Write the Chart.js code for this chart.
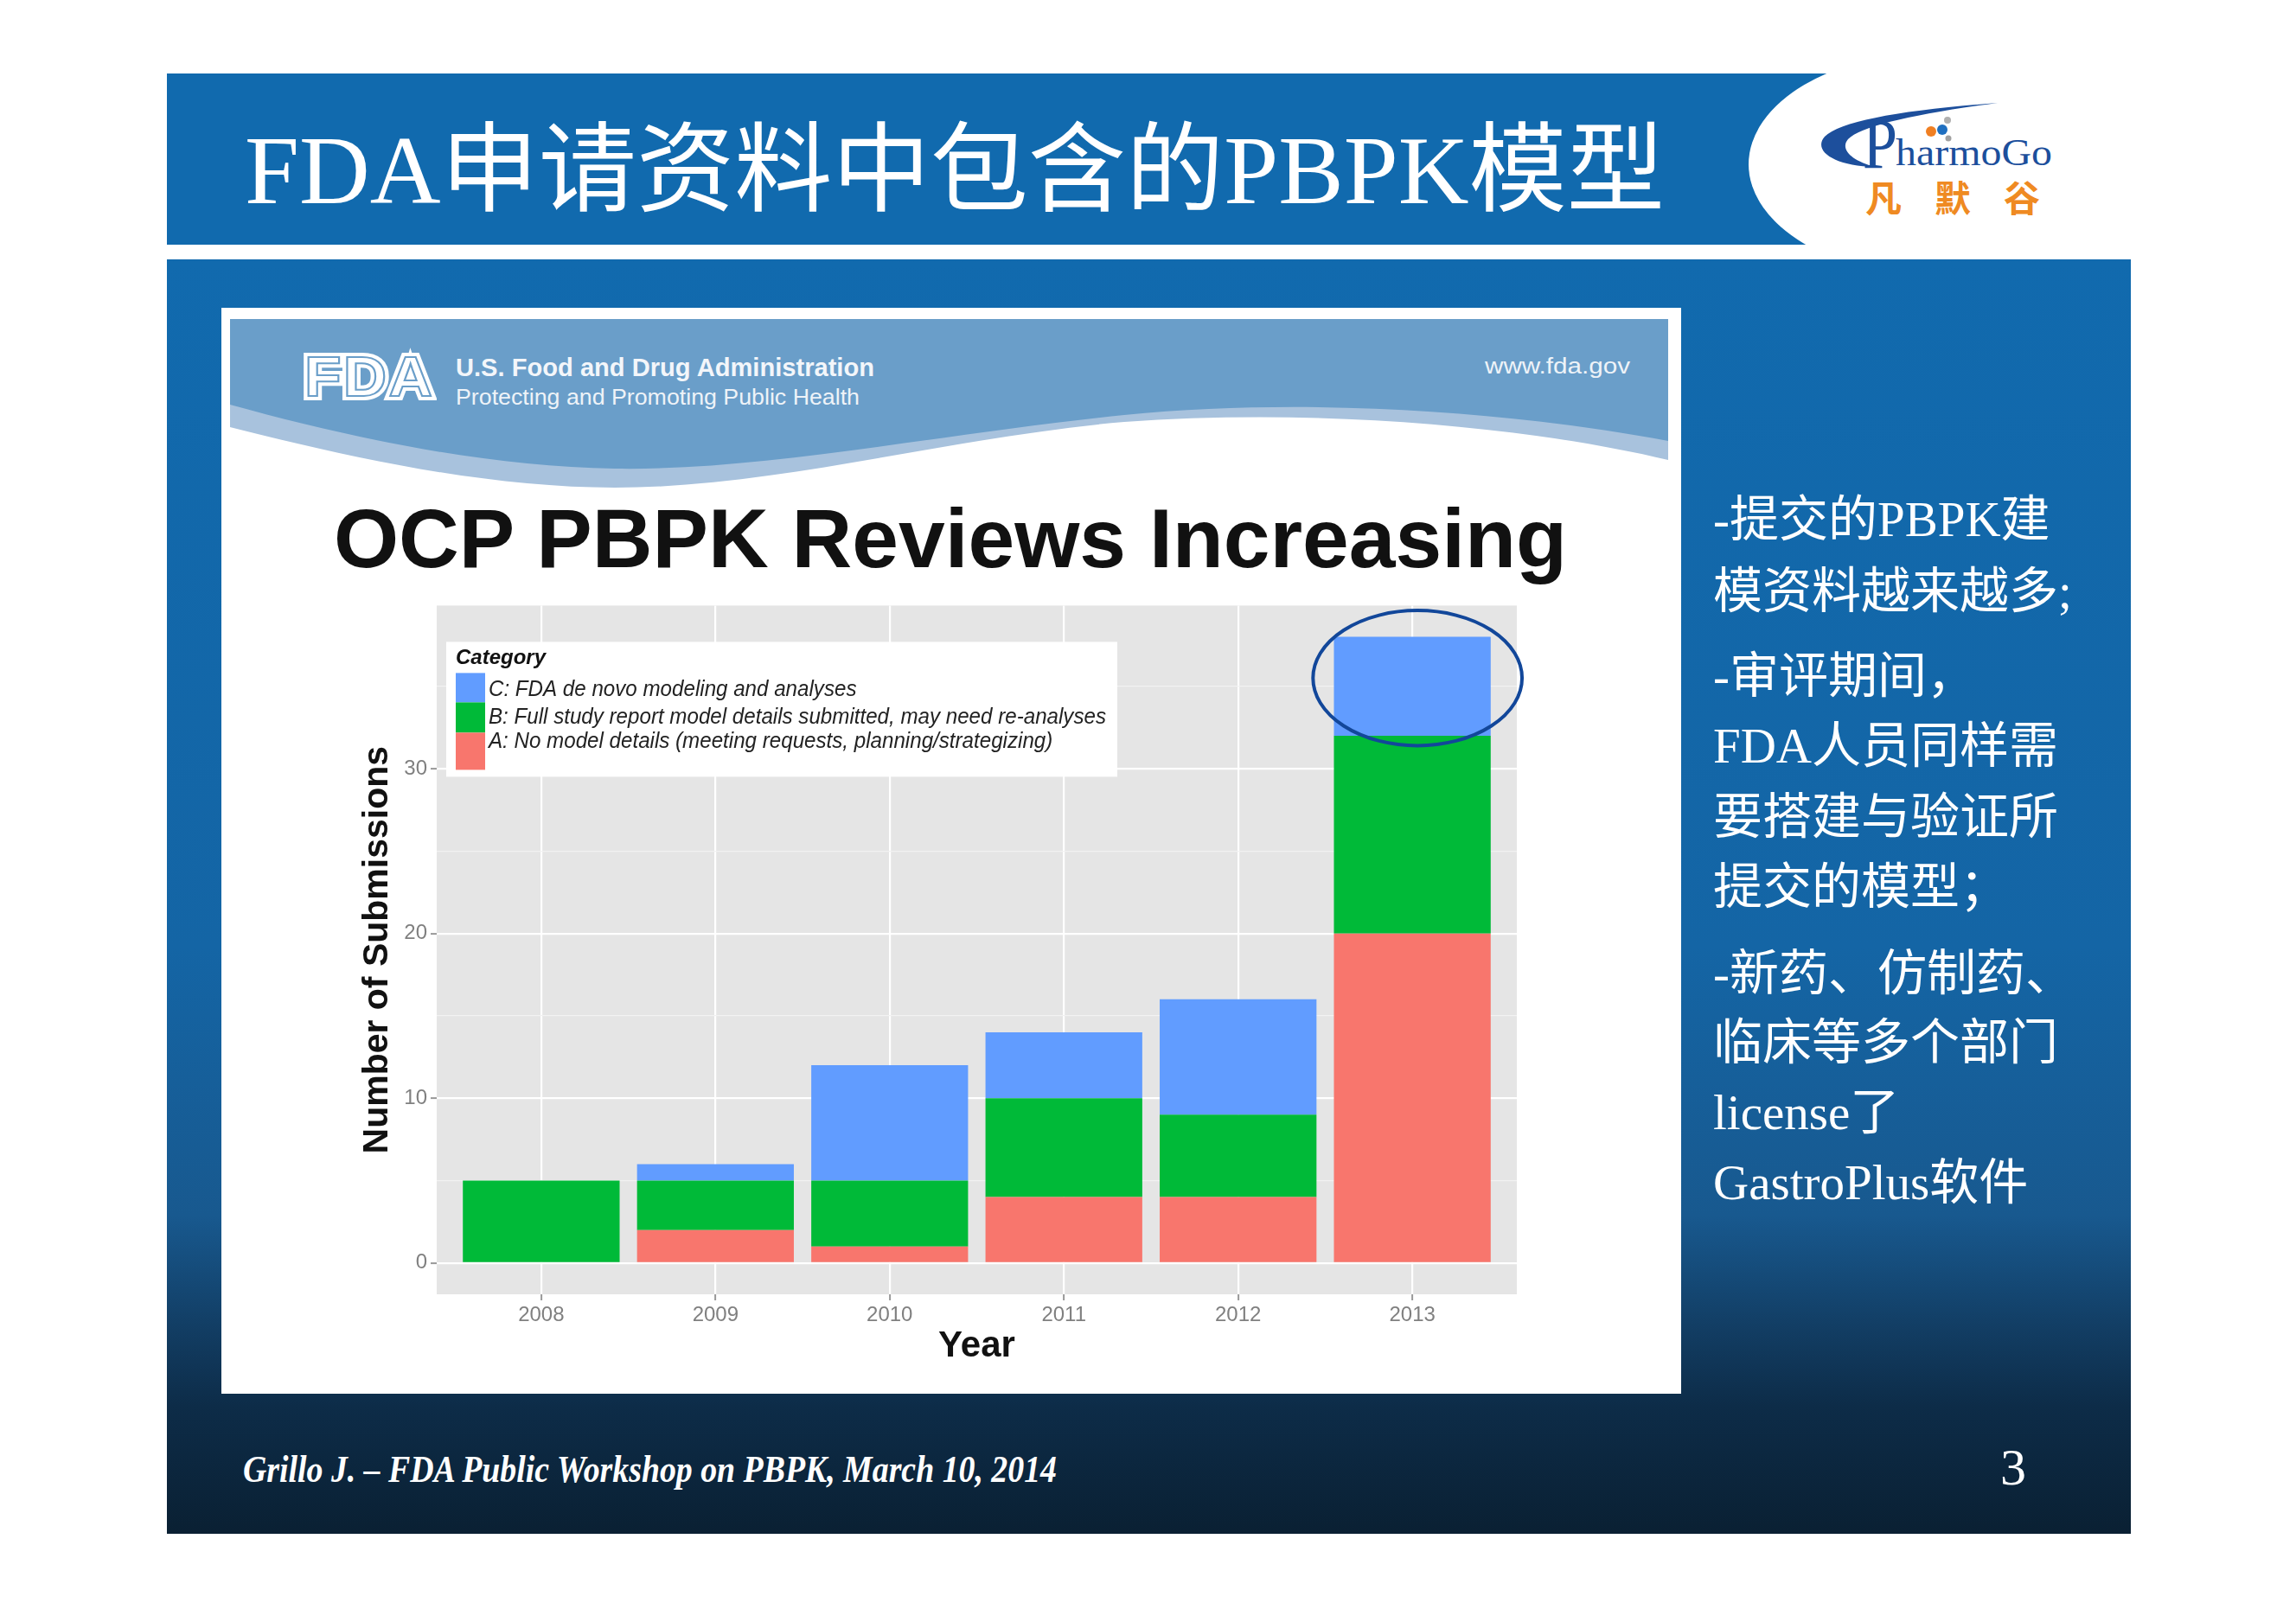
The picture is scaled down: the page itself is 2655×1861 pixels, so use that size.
<!DOCTYPE html>
<html>
<head>
<meta charset="utf-8">
<script src="https://cdn.jsdelivr.net/npm/chart.js@4.4.1/dist/chart.umd.min.js"></script>
<style>
  html, body { margin: 0; padding: 0; background: #fff; }
  #page { position: relative; width: 2655px; height: 1861px; overflow: hidden; background: #fff; }
  .abs { position: absolute; }
  .t { position: absolute; white-space: nowrap; transform-origin: 0 50%; }
  .serif { font-family: "Liberation Serif", "Noto Sans CJK SC", serif; }
  .sans { font-family: "Liberation Sans", Arial, sans-serif; }
  .side { color: #fff; font-size: 57px; line-height: 70px; left: 1981px; }
  .fda { left: 352px; top: 396px; line-height: 80px; font-size: 64px; font-weight: bold; letter-spacing: 2px; }
</style>
</head>
<body>
<div id="page">
  <!-- header bar with white logo cut-out -->
  <div class="abs" style="left:193px;top:85px;width:2271px;height:198px;background:#116aae;overflow:hidden">
    <div class="abs" style="left:1829px;top:-25px;width:440px;height:260px;border-radius:50%;background:#fff"></div>
    <div class="abs" style="left:2049px;top:0;width:300px;height:198px;background:#fff"></div>
  </div>
  <!-- body -->
  <div class="abs" style="left:193px;top:300px;width:2271px;height:1474px;
       background:linear-gradient(to bottom,#116aae 0%,#1465a5 54%,#18598f 75%,#123d63 84%,#0d2c48 90%,#0a2033 100%)"></div>
  <!-- white slide panel -->
  <div class="abs" style="left:256px;top:356px;width:1688px;height:1256px;background:#fff"></div>

  <svg class="abs" style="left:0;top:0" width="2655" height="1861">
    <path d="M266,420 H1929 V532 C1760,492 1520,472 1300,488 C1100,505 900,564 711,564 C560,564 400,528 266,494 Z" fill="#a8c2dd"/>
    <path d="M266,369 H1929 V510 C1760,478 1520,458 1300,480 C1100,500 880,545 711,542 C560,540 400,505 266,468 Z" fill="#6a9ec9"/>
    <!-- logo swoosh and dots -->
    <path d="M2168,193 C2120,192 2096,174 2110,158 C2128,140 2200,127 2310,119 C2212,132 2152,146 2137,161 C2127,173 2142,186 2168,193 Z" fill="#1d4f9c"/>
    <circle cx="2233" cy="152" r="6" fill="#f07f22"/>
    <circle cx="2246" cy="150" r="6" fill="#1f6fc0"/>
    <circle cx="2252" cy="139" r="4" fill="#b0b0b0"/>
    <circle cx="2253" cy="160" r="3.5" fill="#a0a0a0"/>
  </svg>

  <!-- slide title -->
  <div class="t serif" style="left:283px;top:132px;line-height:130px;font-size:113px;color:#fff" data-w="1642">FDA申请资料中包含的PBPK模型</div>

  <!-- logo text -->
  <div class="t serif" style="left:2154px;top:117px;line-height:100px;font-size:82px;color:#1c4f9c" data-w="40">P</div>
  <div class="t serif" style="left:2192px;top:147px;line-height:60px;font-size:44px;color:#1c4f9c" data-w="181">harmoGo</div>
  <div class="t" style="left:2157px;top:200px;line-height:54px;font-size:42px;font-weight:bold;letter-spacing:38px;color:#ef8a22;font-family:'Noto Sans CJK SC'">凡默谷</div>

  <!-- FDA banner text; logo made of two layers for the outlined look -->
  <div class="t sans fda" style="color:#fff;-webkit-text-stroke:10px #fff" data-w="150">FDA</div>
  <div class="t sans fda" style="color:#fff;-webkit-text-stroke:2px #6a9ec9" data-w="150">FDA</div>
  <div class="t sans" style="left:527px;top:405px;line-height:40px;font-size:30px;font-weight:bold;color:#f3f6fa" data-w="484">U.S. Food and Drug Administration</div>
  <div class="t sans" style="left:527px;top:442px;line-height:34px;font-size:25px;color:#eef3f8" data-w="467">Protecting and Promoting Public Health</div>
  <div class="t sans" style="left:1717px;top:405px;line-height:36px;font-size:26px;color:#eef3f8" data-w="168">www.fda.gov</div>

  <!-- chart title -->
  <div class="t sans" style="left:386px;top:563px;line-height:120px;font-size:97px;font-weight:bold;color:#111" data-w="1426">OCP PBPK Reviews Increasing</div>

  <!-- right column -->
  <div class="t serif side" style="top:566px">-提交的PBPK建</div>
  <div class="t serif side" style="top:649px">模资料越来越多;</div>
  <div class="t serif side" style="top:747px">-审评期间，</div>
  <div class="t serif side" style="top:828px">FDA人员同样需</div>
  <div class="t serif side" style="top:910px">要搭建与验证所</div>
  <div class="t serif side" style="top:991px">提交的模型；</div>
  <div class="t serif side" style="top:1091px">-新药、仿制药、</div>
  <div class="t serif side" style="top:1171px">临床等多个部门</div>
  <div class="t serif side" style="top:1252px">license了</div>
  <div class="t serif side" style="top:1333px">GastroPlus软件</div>

  <!-- footer -->
  <div class="t serif" style="left:281px;top:1670px;line-height:60px;font-size:44px;font-weight:bold;font-style:italic;color:#fff" data-w="941">Grillo J. – FDA Public Workshop on PBPK, March 10, 2014</div>
  <div class="t serif" style="left:2313px;top:1657px;line-height:80px;font-size:60px;color:#fff">3</div>

  <canvas id="chart" width="1370" height="938" style="position:absolute;left:400px;top:682px"></canvas>
</div>

<script>
document.querySelectorAll('[data-w]').forEach(el => {
  const w = el.getBoundingClientRect().width;
  el.style.transform = 'scaleX(' + (+el.dataset.w / w) + ')';
});

const years = ['2008', '2009', '2010', '2011', '2012', '2013'];
const seriesA = [0, 2, 1, 4, 4, 20];
const seriesB = [5, 3, 4, 6, 5, 12];
const seriesC = [0, 1, 7, 4, 7, 6];
const yTicks = [0, 10, 20, 30];
const yMinor = [5, 15, 25, 35];
const legendTitle = 'Category';
const labelA = 'A: No model details (meeting requests, planning/strategizing)';
const labelB = 'B: Full study report model details submitted, may need re-analyses';
const labelC = 'C: FDA de novo modeling and analyses';

const toPoints = vals => years.map((_, i) => ({ x: i + 1, y: vals[i] }));

// grey panel like ggplot
const panelBg = {
  id: 'panelBg',
  beforeDraw(chart) {
    const { ctx, chartArea: a } = chart;
    ctx.save();
    ctx.fillStyle = '#e5e5e5';
    ctx.fillRect(a.left, a.top, a.right - a.left, a.bottom - a.top);
    ctx.restore();
  }
};

const legendBox = {
  id: 'legendBox',
  afterDatasetsDraw(chart) {
    const { ctx, chartArea: a } = chart;
    const x0 = a.left + 11, y0 = a.top + 42;
    ctx.save();
    ctx.fillStyle = '#fff';
    ctx.fillRect(x0, y0, 776, 156);
    ctx.fillStyle = '#111';
    ctx.textBaseline = 'middle';
    ctx.font = 'italic bold 24px "Liberation Sans"';
    ctx.fillText(legendTitle, x0 + 11, y0 + 19);

    const sets = chart.data.datasets.slice().reverse();
    const keyTop = [36, 70, 105], keyH = [34, 35, 43], textY = [56, 88, 116];
    ctx.font = 'italic 25px "Liberation Sans"';
    const ratio = 714 / ctx.measureText(labelB).width;
    sets.forEach((ds, i) => {
      ctx.fillStyle = ds.backgroundColor;
      ctx.fillRect(x0 + 11, y0 + keyTop[i], 34, keyH[i]);
      ctx.fillStyle = '#222';
      ctx.save();
      ctx.translate(x0 + 49, y0 + textY[i]);
      ctx.scale(ratio, 1);
      ctx.fillText(ds.label, 0, 0);
      ctx.restore();
    });
    ctx.restore();
  }
};

// hand-drawn ellipse round the 2013 top segment
const ring = {
  id: 'ring',
  afterDatasetsDraw(chart) {
    const { ctx } = chart;
    const xs = chart.scales.x, ys = chart.scales.y;
    const cx = xs.getPixelForValue(6.03), cy = ys.getPixelForValue(35.5);
    const rx = xs.getPixelForValue(6.63) - cx;
    const ry = ys.getPixelForValue(31.4) - cy;
    ctx.save();
    ctx.strokeStyle = '#12479a';
    ctx.lineWidth = 4;
    ctx.beginPath();
    ctx.ellipse(cx, cy, rx, ry, 0, 0, Math.PI * 2);
    ctx.stroke();
    ctx.restore();
  }
};

Chart.defaults.font.family = '"Liberation Sans", Arial, sans-serif';

new Chart(document.getElementById('chart'), {
  type: 'bar',
  data: {
    datasets: [
      { label: labelA, data: toPoints(seriesA), backgroundColor: '#F8766D' },
      { label: labelB, data: toPoints(seriesB), backgroundColor: '#00BA38' },
      { label: labelC, data: toPoints(seriesC), backgroundColor: '#619CFF' }
    ]
  },
  options: {
    responsive: false,
    animation: false,
    devicePixelRatio: 1,
    borderWidth: 0,
    categoryPercentage: 1,
    barPercentage: 0.9,
    layout: { padding: { top: 9, right: 16, bottom: 0, left: 0 } },
    plugins: { legend: { display: false }, tooltip: { enabled: false } },
    scales: {
      x: {
        type: 'linear', min: 0.4, max: 6.6, stacked: true, offset: false,
        afterBuildTicks: s => { s.ticks = years.map((_, i) => ({ value: i + 1 })); },
        afterFit: s => { s.height = 123; },
        ticks: {
          callback: (v, i) => years[i],
          color: '#808080', font: { size: 24 }, padding: 3, autoSkip: false, maxRotation: 0
        },
        grid: { offset: false, color: '#ffffff', lineWidth: 2.2, tickColor: '#999', tickLength: 7, tickWidth: 2 },
        border: { display: false },
        title: { display: true, text: 'Year', color: '#111', font: { size: 42, weight: 'bold' }, padding: { bottom: 37 } }
      },
      y: {
        min: -1.9, max: 39.9, stacked: true,
        afterBuildTicks: s => {
          s.ticks = yTicks.concat(yMinor).sort((a, b) => a - b).map(v => ({ value: v }));
        },
        afterFit: s => { s.width = 105; },
        ticks: {
          callback: v => yTicks.includes(v) ? String(v) : '',
          color: '#808080', font: { size: 24 }, padding: 4
        },
        grid: {
          color: c => yTicks.includes(c.tick.value) ? '#ffffff' : '#f2f2f2',
          lineWidth: c => yTicks.includes(c.tick.value) ? 2.2 : 1.2,
          tickColor: c => yTicks.includes(c.tick.value) ? '#999' : 'rgba(0,0,0,0)',
          tickLength: 7, tickWidth: 2
        },
        border: { display: false },
        title: { display: true, text: 'Number of Submissions', color: '#111', font: { size: 41, weight: 'bold' }, padding: { top: 12 } }
      }
    }
  },
  plugins: [panelBg, legendBox, ring]
});
</script>
</body>
</html>
